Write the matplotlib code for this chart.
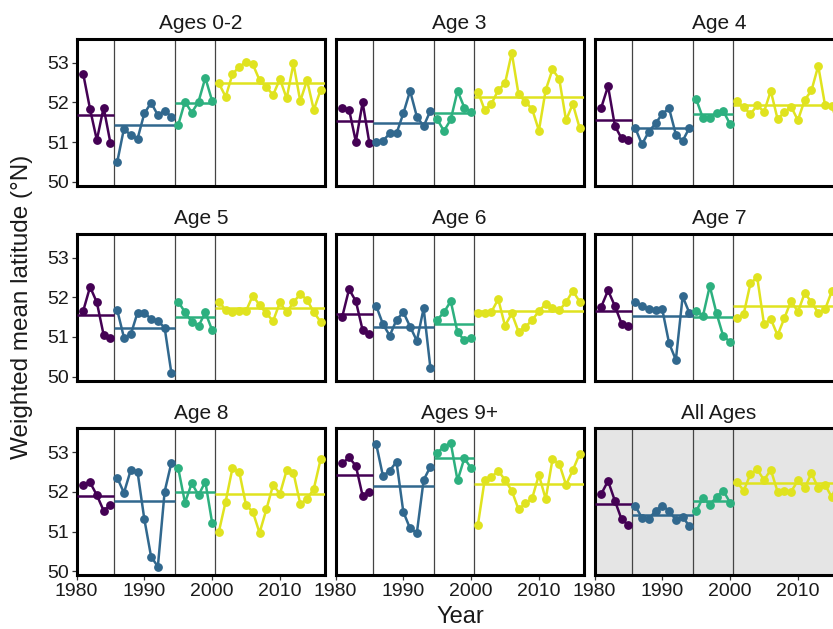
import numpy as np
import matplotlib
matplotlib.use("Agg")
import matplotlib.pyplot as plt

plt.rcParams["font.family"] = ["Liberation Sans", "DejaVu Sans"]

# ---------------------------------------------------------------------------
# data: weighted mean latitude per year (1981-2016), one list per age group
# ---------------------------------------------------------------------------
YEARS = np.arange(1981, 2017)
BREAKS = [1985.5, 1994.5, 2000.5]
PERIOD_COLORS = ["#440154", "#31688E", "#2DB07F", "#E0E31F"]

PANEL_TITLES = ["Ages 0-2", "Age 3", "Age 4",
                "Age 5", "Age 6", "Age 7",
                "Age 8", "Ages 9+", "All Ages"]

ages_0_2 = [52.71, 51.83, 51.05, 51.87, 50.98,
            50.49, 51.34, 51.17, 51.08, 51.72, 51.99, 51.68, 51.79, 51.64,
            51.43, 52.02, 51.74, 52.02, 52.62, 52.04,
            52.48, 52.14, 52.71, 52.90, 53.01, 52.96, 52.56, 52.38,
            52.19, 52.59, 52.10, 52.98, 52.03, 52.56, 51.81, 52.31]
age_3 = [51.85, 51.82, 51.01, 52.00, 50.97,
         51.01, 51.03, 51.22, 51.22, 51.72, 52.29, 51.64, 51.40, 51.79,
         51.57, 51.28, 51.57, 52.29, 51.87, 51.76,
         52.27, 51.81, 51.96, 52.31, 52.48, 53.25, 52.20, 52.02,
         51.83, 51.29, 52.31, 52.83, 52.59, 51.55, 51.96, 51.36]
age_4 = [51.87, 52.41, 51.41, 51.09, 51.05,
         51.36, 50.94, 51.26, 51.47, 51.71, 51.85, 51.19, 51.03, 51.36,
         52.08, 51.60, 51.60, 51.72, 51.78, 51.45,
         52.03, 51.89, 51.70, 51.93, 51.76, 52.29, 51.58, 51.75,
         51.89, 51.55, 52.06, 52.30, 52.92, 51.93, 51.91, 51.40]
age_5 = [51.66, 52.26, 51.87, 51.05, 50.97,
         51.68, 50.98, 51.06, 51.61, 51.61, 51.45, 51.40, 51.23, 50.08,
         51.89, 51.62, 51.38, 51.27, 51.62, 51.17,
         51.89, 51.68, 51.62, 51.65, 51.65, 52.04, 51.80, 51.59,
         51.40, 51.87, 51.62, 51.87, 52.08, 51.93, 51.62, 51.38]
age_6 = [51.51, 52.20, 51.90, 51.17, 51.06,
         51.78, 51.32, 51.03, 51.43, 51.62, 51.26, 50.90, 51.72, 50.21,
         51.43, 51.62, 51.90, 51.11, 50.92, 50.98,
         51.59, 51.59, 51.63, 51.95, 51.28, 51.59, 51.13, 51.25,
         51.42, 51.65, 51.83, 51.73, 51.67, 51.87, 52.16, 51.89]
age_7 = [51.76, 52.17, 51.78, 51.33, 51.28,
         51.89, 51.78, 51.70, 51.68, 51.69, 50.84, 50.42, 52.02, 51.60,
         51.66, 51.53, 52.28, 51.59, 51.01, 50.88,
         51.47, 51.57, 52.35, 52.50, 51.32, 51.45, 51.04, 51.47,
         51.91, 51.63, 52.10, 51.88, 51.60, 51.69, 52.15, 52.40]
age_8 = [52.18, 52.24, 51.92, 51.53, 51.67,
         52.36, 51.98, 52.55, 52.51, 51.32, 50.37, 50.12, 52.01, 52.74,
         52.60, 51.73, 52.22, 51.92, 52.26, 51.23,
         51.00, 51.76, 52.60, 52.51, 51.67, 51.50, 50.97, 51.56,
         52.18, 51.95, 52.55, 52.48, 51.70, 51.82, 52.08, 52.82]
ages_9 = [52.72, 52.87, 52.66, 51.90, 52.01,
          53.21, 52.40, 52.54, 52.76, 51.50, 51.08, 50.97, 52.30, 52.64,
          52.99, 53.14, 53.24, 52.29, 52.85, 52.60,
          51.17, 52.30, 52.37, 52.54, 52.30, 52.03, 51.56, 51.71,
          51.84, 52.43, 51.82, 52.82, 52.71, 52.18, 52.55, 52.96]
all_ages = [51.95, 52.28, 51.78, 51.31, 51.17,
            51.65, 51.35, 51.31, 51.53, 51.65, 51.53, 51.29, 51.38, 51.13,
            51.51, 51.86, 51.67, 51.88, 52.03, 51.73,
            52.26, 52.03, 52.45, 52.57, 52.30, 52.56, 52.01, 52.03,
            52.01, 52.29, 52.10, 52.47, 52.10, 52.18, 51.87, 52.30]

PANEL_DATA = [ages_0_2, age_3, age_4, age_5, age_6, age_7, age_8, ages_9, all_ages]

# ---------------------------------------------------------------------------
W, H = 833, 629
XLIM = (1980, 2016.65)
YLIM = (49.9, 53.6)
TEXT = "#1a1a1a"


def _panel_style(ax, row, col, grey):
    ax.set_xlim(*XLIM)
    ax.set_ylim(*YLIM)
    ax.set_facecolor("#E5E5E5" if grey else "white")
    for sp in ax.spines.values():
        sp.set_color("black")
        sp.set_linewidth(2.2)
    ax.set_xticks([1980, 1990, 2000, 2010])
    ax.set_yticks([50, 51, 52, 53])
    ax.tick_params(length=3.5, width=0.9, color="#333333", labelsize=14,
                   labelcolor=TEXT, pad=2)
    if col != 0:
        ax.tick_params(axis="y", left=False, labelleft=False)
    if row != 2:
        ax.tick_params(axis="x", bottom=False, labelbottom=False)


fig = plt.figure(figsize=(W / 100, H / 100), dpi=100)

edges = [XLIM[0]] + BREAKS + [XLIM[1]]
for i, (title, vals) in enumerate(zip(PANEL_TITLES, PANEL_DATA)):
    row, col = divmod(i, 3)
    left = 76.5 + col * 259
    top = 38.9 + row * 194.8
    ax = fig.add_axes([left / W, 1 - (top + 146.8) / H, 248.5 / W, 146.8 / H])
    _panel_style(ax, row, col, grey=(title == "All Ages"))

    for b in BREAKS:
        ax.axvline(b, color="#444444", lw=0.9, zorder=1)

    vals = np.array(vals)
    for k, colr in enumerate(PERIOD_COLORS):
        m = (YEARS > edges[k]) & (YEARS < edges[k + 1])
        ax.plot(YEARS[m], vals[m], "-o", color=colr, lw=1.8, ms=5.3, zorder=3)
        ax.hlines(vals[m].mean(), edges[k], edges[k + 1], color=colr, lw=1.8, zorder=3)

    ax.set_title(title, fontsize=15, color=TEXT, pad=7)

fig.text(22 / W, 1 - 307 / H, "Weighted mean latitude (°N)", rotation=90,
         ha="center", va="center", fontsize=17.5, color=TEXT)
fig.text(460 / W, 1 - 617 / H, "Year", ha="center", va="center",
         fontsize=17, color=TEXT)

fig.savefig("out.png", dpi=100, facecolor="white")
